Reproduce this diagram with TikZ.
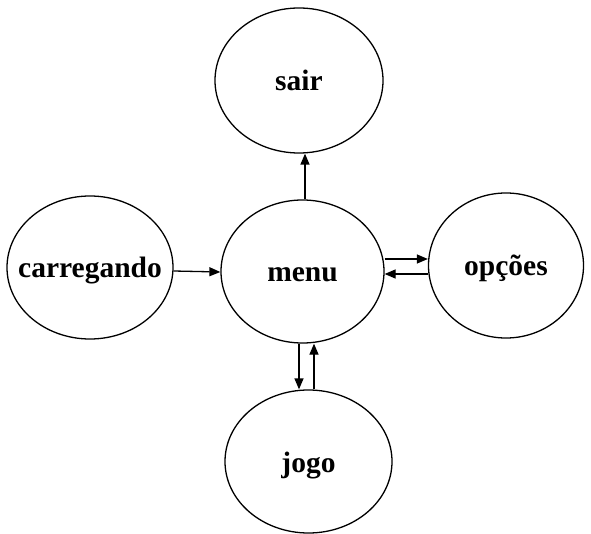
\documentclass[tikz,border=0pt]{standalone}
\usepackage{fontspec}
\setmainfont{Liberation Serif}
\usetikzlibrary{arrows.meta,shapes.geometric}
\begin{document}
\begin{tikzpicture}[x=1pt,y=-1pt,
  st/.style={draw,line width=1.3pt,ellipse,inner sep=0pt},
  lbl/.style={font=\bfseries\fontsize{29.5}{32}\selectfont,anchor=base,inner sep=0pt,yshift=-10.5pt},
  arr/.style={line width=1.3pt,-{Triangle[length=11pt,width=9pt]}}]
\useasboundingbox (0,0) rectangle (591,534);
\node[st,minimum width=168pt,minimum height=145pt] (sair) at (299,80.5) {};
\node[lbl] at (sair) {sair};
\node[st,minimum width=163pt,minimum height=143pt] (menu) at (302.5,271.5) {};
\node[lbl] at (menu) {menu};
\node[st,minimum width=166pt,minimum height=143pt] (carr) at (90,267.5) {};
\node[lbl] at (carr) {carregando};
\node[st,minimum width=155pt,minimum height=145pt] (opc) at (506,265.5) {};
\node[lbl] at (opc) {opções};
\node[st,minimum width=167pt,minimum height=143pt] (jogo) at (308.5,461.5) {};
\node[lbl] at (jogo) {jogo};
\draw[arr] ([xshift=2.5pt]menu.north) -- ([xshift=6pt]sair.south);
\draw[arr] ([yshift=-3.5pt]carr.east) -- ([yshift=-0.5pt]menu.west);
\draw[arr] ([yshift=12.5pt]menu.east) -- ([yshift=6.5pt]opc.west);
\draw[arr] ([yshift=-8.5pt]opc.west) -- ([yshift=-2.5pt]menu.east);
\draw[arr] ([xshift=-3.5pt]menu.south) -- ([xshift=-9.5pt]jogo.north);
\draw[arr] ([xshift=5.5pt]jogo.north) -- ([xshift=11.5pt]menu.south);
\end{tikzpicture}
\end{document}
